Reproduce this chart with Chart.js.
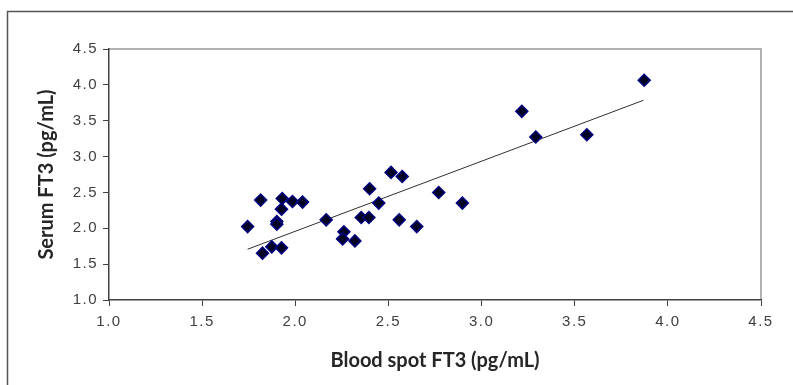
<!DOCTYPE html>
<html>
<head>
<meta charset="utf-8">
<script src="https://cdn.jsdelivr.net/npm/chart.js@4/dist/chart.umd.min.js"></script>
<style>
  html, body { margin: 0; padding: 0; background: #fff; }
  canvas { display: block; }
</style>
</head>
<body>
<canvas id="graph" width="793" height="385"></canvas>
<script>
// blood spot FT3 (x) vs serum FT3 (y), pg/mL
const bloodSpot = [1.744, 1.814, 1.824, 1.874, 1.926, 1.901, 1.901, 1.926, 1.930, 1.985,
                   2.039, 2.166, 2.261, 2.254, 2.320, 2.354, 2.395, 2.399, 2.448, 2.514,
                   2.574, 2.558, 2.652, 2.770, 2.897, 3.216, 3.291, 3.565, 3.873]
const serum = [2.024, 2.393, 1.653, 1.741, 1.727, 2.094, 2.058, 2.267, 2.415, 2.373,
               2.365, 2.118, 1.950, 1.852, 1.824, 2.150, 2.150, 2.551, 2.351, 2.779,
               2.723, 2.118, 2.024, 2.499, 2.351, 3.631, 3.273, 3.305, 4.064]
// trend line ends
const trendX = [1.744, 3.869]
const trendY = [1.708, 3.785]
const tickValues = [1.0, 1.5, 2.0, 2.5, 3.0, 3.5, 4.0, 4.5]

const points = bloodSpot.map((x, i) => ({ x: x, y: serum[i] }))
const trend = trendX.map((x, i) => ({ x: x, y: trendY[i] }))

const framePlugin = {
    id: 'frame',
    beforeDraw(chart) {
        const ctx = chart.ctx
        const a = chart.chartArea
        ctx.save()
        ctx.fillStyle = '#fff'
        ctx.fillRect(0, 0, chart.width, chart.height)
        ctx.strokeStyle = '#555'
        ctx.lineWidth = 1.5
        ctx.beginPath()
        ctx.moveTo(7.5, chart.height)
        ctx.lineTo(7.5, 11.5)
        ctx.lineTo(chart.width, 11.5)
        ctx.stroke()
        ctx.strokeStyle = '#999'
        ctx.lineWidth = 1.5
        ctx.beginPath()
        ctx.moveTo(a.left, a.top)
        ctx.lineTo(a.right, a.top)
        ctx.lineTo(a.right, a.bottom)
        ctx.stroke()
        ctx.restore()
    }
}

// tick labels in the picture are widely spaced
const spacedLabels = scale => {
    const draw = Object.getPrototypeOf(scale).drawLabels
    scale.drawLabels = function (area) {
        this.ctx.save()
        this.ctx.letterSpacing = '1.5px'
        draw.call(this, area)
        this.ctx.restore()
    }
}

const tickFont = { family: '"Liberation Sans", Arial, sans-serif', size: 15 }
const titleFont = { family: 'Lato, "Open Sans", sans-serif', size: 20, weight: 'bold', lineHeight: 1.2 }

const axis = (title, labelPad, titlePad) => ({
    type: 'linear',
    min: 1,
    max: 4.5,
    afterBuildTicks: scale => { scale.ticks = tickValues.map(v => ({ value: v })) },
    ticks: {
        callback: v => v.toFixed(1),
        font: tickFont,
        color: '#404040',
        padding: labelPad,
        maxRotation: 0
    },
    grid: {
        drawOnChartArea: false,
        drawTicks: true,
        tickLength: 6,
        tickColor: '#404040'
    },
    border: { color: '#404040', width: 1.5 },
    title: {
        display: true,
        text: title,
        font: titleFont,
        color: '#262626',
        padding: titlePad
    }
})

const xAxis = axis('Blood spot FT3 (pg/mL)', 7, { top: 0, bottom: 12 })
xAxis.afterFit = scale => { scale.height = 85; spacedLabels(scale) }
const yAxis = axis('Serum FT3 (pg/mL)', 5, { top: 35, bottom: 0 })
yAxis.afterFit = scale => { scale.width = 109; spacedLabels(scale) }

new Chart(document.querySelector('#graph'), {
    type: 'scatter',
    data: {
        datasets: [{
            label: 'data',
            data: points,
            pointStyle: 'rectRot',
            pointRadius: 6,
            pointHoverRadius: 6,
            backgroundColor: '#000022',
            borderColor: '#000080',
            borderWidth: 1.5,
            order: 1
        }, {
            label: 'trend',
            type: 'line',
            data: trend,
            showLine: true,
            pointRadius: 0,
            borderColor: '#303030',
            borderWidth: 1,
            fill: false,
            order: 2
        }]
    },
    options: {
        responsive: false,
        animation: false,
        events: [],
        layout: { padding: { top: 49, right: 32, left: 0, bottom: 0 } },
        plugins: {
            legend: { display: false },
            tooltip: { enabled: false }
        },
        scales: { x: xAxis, y: yAxis }
    },
    plugins: [framePlugin]
})
</script>
</body>
</html>
